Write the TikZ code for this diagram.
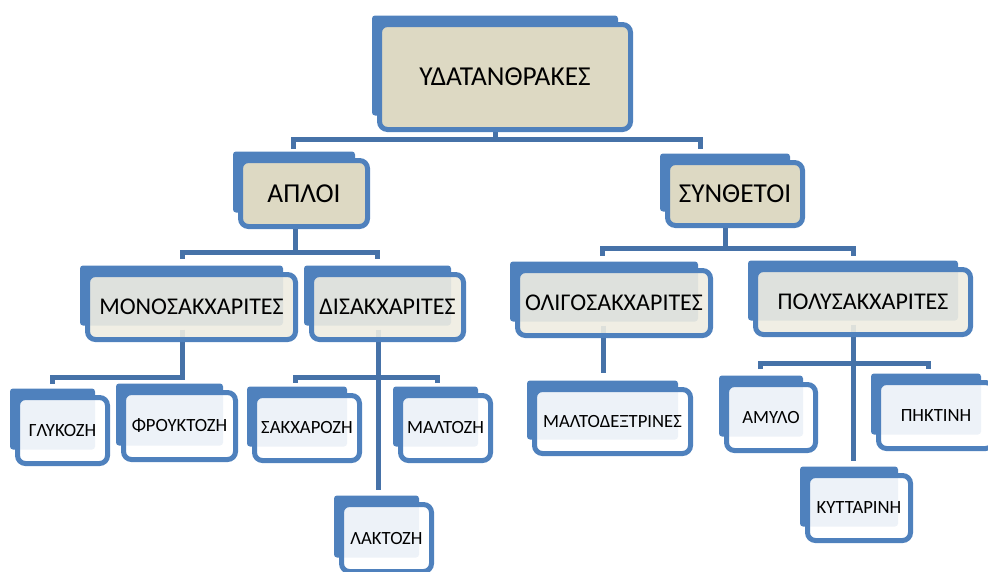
\documentclass[tikz,border=0pt]{standalone}
\usepackage{fontspec}
\setmainfont{Carlito}
\usetikzlibrary{backgrounds}
\definecolor{boxblue}{HTML}{4F81BD}
\definecolor{linkblue}{HTML}{4672A8}
\definecolor{rootbeige}{HTML}{DDD9C3}
\definecolor{groupbeige}{HTML}{EEECE1}
\newlength{\pxu}
\setlength{\pxu}{0.75pt}

\begin{document}
\begin{tikzpicture}[
    x=0.75pt, y=-0.75pt,
    basebox/.style={
        draw=boxblue, line width=5\pxu, rounded corners=8\pxu,
        outer sep=0pt, inner sep=0pt, align=center, text=black,
        text opacity=1,
    },
    rootbox/.style={basebox, fill=rootbeige, font=\fontsize{20.5}{24}\selectfont},
    groupbox/.style={basebox, fill=groupbeige, fill opacity=0.9,
        font=\fontsize{18}{21}\selectfont},
    leafbox/.style={basebox, fill=white, fill opacity=0.9,
        font=\fontsize{14}{16}\selectfont},
    backbox/.style={fill=boxblue, rounded corners=3\pxu},
    link/.style={draw=linkblue, line width=5\pxu},
]
\useasboundingbox (0,0) rectangle (988,571);
\clip (0,0) rectangle (988,571);

% Nodes
\node[rootbox, minimum width=251\pxu, minimum height=105\pxu] (carbs) at (505,77) {ΥΔΑΤΑΝΘΡΑΚΕΣ};
\node[rootbox, minimum width=127\pxu, minimum height=66\pxu] (simple) at (304,193.5) {ΑΠΛΟΙ};
\node[rootbox, minimum width=135\pxu, minimum height=63\pxu] (compound) at (735,194) {ΣΥΝΘΕΤΟΙ};

\node[groupbox, minimum width=208\pxu, minimum height=65\pxu] (mono) at (191.5,307) {ΜΟΝΟΣΑΚΧΑΡΙΤΕΣ};
\node[groupbox, minimum width=152\pxu, minimum height=65\pxu] (di) at (387.5,307) {ΔΙΣΑΚΧΑΡΙΤΕΣ};
\node[groupbox, minimum width=193\pxu, minimum height=65\pxu] (oligo) at (614,303) {ΟΛΙΓΟΣΑΚΧΑΡΙΤΕΣ};
\node[groupbox, minimum width=215\pxu, minimum height=65\pxu] (poly) at (863,302) {ΠΟΛΥΣΑΚΧΑΡΙΤΕΣ};

\node[leafbox, minimum width=90\pxu, minimum height=66\pxu] (glucose) at (62.5,430.5) {ΓΛΥΚΟΖΗ};
\node[leafbox, minimum width=112\pxu, minimum height=67\pxu] (fructose) at (179.5,426) {ΦΡΟΥΚΤΟΖΗ};
\node[leafbox, minimum width=105\pxu, minimum height=65\pxu] (sucrose) at (307,428) {ΣΑΚΧΑΡΟΖΗ};
\node[leafbox, minimum width=90\pxu, minimum height=65\pxu] (maltose) at (445.5,428) {ΜΑΛΤΟΖΗ};
\node[leafbox, minimum width=90\pxu, minimum height=67\pxu] (lactose) at (386.5,538) {ΛΑΚΤΟΖΗ};
\node[leafbox, minimum width=156\pxu, minimum height=64\pxu] (dextrin) at (612.5,421.5) {ΜΑΛΤΟΔΕΞΤΡΙΝΕΣ};
\node[leafbox, minimum width=89\pxu, minimum height=66\pxu] (starch) at (771,417.5) {ΑΜΥΛΟ};
\node[leafbox, minimum width=115\pxu, minimum height=66\pxu] (pectin) at (936,415.5) {ΠΗΚΤΙΝΗ};
\node[leafbox, minimum width=103\pxu, minimum height=65\pxu] (cellulose) at (859,508) {ΚΥΤΤΑΡΙΝΗ};

\begin{scope}[on background layer]
% Connectors
\draw[link] ([shift={(-10,-5)}]carbs.south) -- ++(0,15);
\draw[link] ([shift={(-11,-12)}]simple.north) -- ++(0,-9.5) -| ([shift={(-35,-14)}]compound.north);

\draw[link] ([shift={(-9,-5)}]simple.south) -- ++(0,31);
\draw[link] ([shift={(-9.5,-16)}]mono.north) -- ++(0,-6) -| ([shift={(-10.5,-16)}]di.north);

\draw[link] ([shift={(-9.5,-10)}]mono.south) |- ([shift={(-10.5,-20)}]glucose.north) -- ([shift={(-10.5,-14)}]glucose.north);

\draw[link] ([shift={(-9.5,-10)}]di.south) -- ([shift={(-8.5,-15)}]lactose.north);
\draw[link] ([shift={(-12,-13)}]sucrose.north) -- ++(0,-5.5) -| ([shift={(-8.5,-13)}]maltose.north);

\draw[link] ([shift={(-10,-5)}]compound.south) -- ++(0,27.5);
\draw[link] ([shift={(-12,-15)}]oligo.north) -- ++(0,-7) -| ([shift={(-10,-14)}]poly.north);

\draw[link] ([shift={(-11,-10)}]oligo.south) -- ([shift={(-9.5,-16.5)}]dextrin.north);

\draw[link] ([shift={(-10,-10)}]poly.south) -- ([shift={(-6,-15)}]cellulose.north);
\draw[link] ([shift={(-11,-15.5)}]starch.north) -- ++(0,-6) -| ([shift={(-8,-13.5)}]pectin.north);

% Back plates
\foreach \n in {carbs,simple,compound,mono,di,oligo,poly,glucose,fructose,sucrose,maltose,lactose,dextrin,starch,pectin,cellulose}
    \fill[backbox] ([shift={(-7.5,-9)}]\n.north west) rectangle ([shift={(-12.5,-14)}]\n.south east);
\end{scope}

\end{tikzpicture}
\end{document}
